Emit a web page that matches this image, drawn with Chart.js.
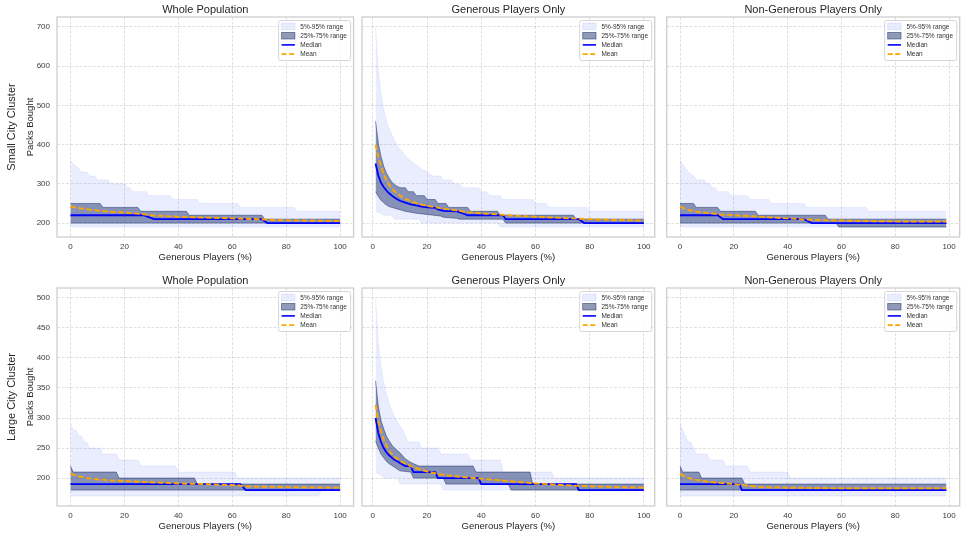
<!DOCTYPE html>
<html>
<head>
<meta charset="utf-8">
<script src="https://cdn.jsdelivr.net/npm/chart.js@4/dist/chart.umd.min.js"></script>
<style>
  html, body { margin: 0; padding: 0; background: #fff; }
  #fig { position: relative; width: 969px; height: 539px; overflow: hidden; }
  #fig canvas { position: absolute; left: 0; top: 0; }
</style>
</head>
<body>
<div id="fig"></div>
<script>
// ---- labels / ticks ----
const panelTitles = ['Whole Population', 'Generous Players Only', 'Non-Generous Players Only'];
const rowLabels = ['Small City Cluster', 'Large City Cluster'];
const xAxisLabel = 'Generous Players (%)';
const yAxisLabel = 'Packs Bought';
const legendLabels = ['5%-95% range', '25%-75% range', 'Median', 'Mean'];
const xTicks = [0, 20, 40, 60, 80, 100];
const yTicksSmall = [200, 300, 400, 500, 600, 700];
const yTicksLarge = [200, 250, 300, 350, 400, 450, 500];

// ---- small city cluster : whole population ----  [generous %, packs]
const smallWholeP05 = [[0,190],[100,190]];
const smallWholeP95 = [[0,360],[1,350],[2,345],[3,340],[4,330],[6,330],[7,320],[9,320],[10,310],[14,310],[15,300],[20,300],[21,290],[22,290],[23,280],[28,280],[29,270],[37,270],[38,260],[47,260],[48,250],[62,250],[63,240],[83,240],[84,230],[100,230]];
const smallWholeP25 = [[0,200],[100,200]];
const smallWholeP75 = [[0,250],[11,250],[12,240],[25,240],[26,230],[43,230],[44,220],[71,220],[72,210],[100,210]];
const smallWholeMedian = [[0,220],[27,220],[29,215],[31,210],[71,210],[73,200],[100,200]];
const smallWholeMean = [[0,242],[5,236],[10,232],[15,229],[20,227],[25,224],[30,220],[40,216],[50,214],[60,212],[70,210],[75,208],[80,207],[90,206],[100,205]];

// ---- small city cluster : generous players only ----
const smallGenP05 = [[1,230],[3,225],[4,220],[7,220],[8,210],[17,210],[18,200],[46,200],[47,190],[100,190]];
const smallGenP95 = [[1,700],[2,590],[3,530],[4,490],[5,460],[6,440],[7,425],[8,410],[9,398],[10,388],[12,372],[14,358],[16,348],[18,338],[20,330],[22,320],[25,320],[26,310],[29,310],[30,300],[32,300],[33,290],[39,290],[40,280],[42,280],[43,270],[47,270],[48,260],[59,260],[60,250],[64,250],[65,240],[79,240],[80,230],[100,230]];
const smallGenP25 = [[1,280],[2,268],[3,258],[4,252],[5,246],[6,242],[8,238],[10,234],[12,230],[16,225],[20,222],[25,218],[26,215],[31,212],[32,210],[48,210],[49,200],[100,200]];
const smallGenP75 = [[1,460],[2,405],[3,370],[4,345],[5,328],[6,315],[7,305],[8,298],[10,290],[12,290],[13,280],[15,280],[16,270],[19,270],[20,260],[23,260],[24,250],[27,250],[28,240],[35,240],[36,230],[46,230],[47,220],[74,220],[75,210],[100,210]];
const smallGenMedian = [[1,352],[2,322],[3,303],[4,292],[5,283],[6,276],[7,270],[8,265],[9,261],[10,257],[12,252],[14,248],[16,245],[18,242],[20,240],[23,239],[24,235],[26,231],[31,230],[33,225],[35,220],[48,220],[49,210],[76,210],[78,200],[100,200]];
const smallGenMean = [[1,400],[2,370],[3,345],[4,325],[5,310],[6,298],[7,288],[8,281],[9,275],[10,270],[12,262],[14,256],[16,251],[18,247],[20,244],[25,238],[30,233],[35,228],[40,225],[50,220],[60,216],[70,213],[80,210],[90,208],[100,206]];

// ---- small city cluster : non-generous players only ----
const smallNonP05 = [[0,190],[99,190]];
const smallNonP95 = [[0,360],[1,350],[2,340],[3,330],[4,325],[5,320],[6,310],[9,310],[10,300],[11,300],[12,290],[13,290],[14,280],[18,280],[19,270],[25,270],[26,260],[33,260],[34,250],[46,250],[47,240],[69,240],[70,230],[99,230]];
const smallNonP25 = [[0,200],[58,200],[59,190],[99,190]];
const smallNonP75 = [[0,250],[5,250],[6,240],[14,240],[15,230],[28,230],[29,220],[54,220],[55,210],[99,210]];
const smallNonMedian = [[0,220],[14,220],[16,210],[46,210],[49,200],[99,200]];
const smallNonMean = [[0,242],[2,236],[4,232],[7,228],[10,226],[15,222],[20,220],[28,217],[35,214],[40,212],[47,209],[55,207],[70,205],[85,204],[99,204]];

// ---- large city cluster : whole population ----
const largeWholeP05 = [[0,170],[92,170],[93,180],[100,180]];
const largeWholeP95 = [[0,290],[1,280],[2,280],[3,270],[4,270],[5,260],[6,260],[7,250],[11,250],[12,240],[17,240],[18,230],[25,230],[26,220],[39,220],[40,210],[61,210],[62,200],[100,200]];
const largeWholeP25 = [[0,180],[100,180]];
const largeWholeP75 = [[0,220],[1,210],[17,210],[18,200],[46,200],[47,190],[100,190]];
const largeWholeMedian = [[0,190],[63,190],[65,180],[100,180]];
const largeWholeMean = [[0,207],[3,203],[6,200],[10,198],[15,196],[20,195],[30,193],[40,191],[50,190],[62,188],[65,186],[80,185],[100,184]];

// ---- large city cluster : generous players only ----
const largeGenP05 = [[1,210],[3,205],[4,200],[9,200],[10,190],[25,190],[26,180],[100,180]];
const largeGenP95 = [[1,500],[2,425],[3,385],[4,360],[5,340],[6,325],[7,312],[8,302],[9,294],[10,287],[11,280],[12,270],[13,260],[17,260],[18,250],[24,250],[25,240],[35,240],[36,230],[47,230],[48,210],[66,210],[67,200],[100,200]];
const largeGenP25 = [[1,262],[2,250],[3,240],[4,234],[5,228],[6,224],[8,218],[10,212],[14,210],[15,200],[26,200],[27,190],[50,190],[51,180],[100,180]];
const largeGenP75 = [[1,362],[2,320],[3,296],[4,282],[5,270],[6,262],[7,255],[8,250],[10,242],[12,232],[14,226],[17,220],[37,220],[38,210],[58,210],[59,190],[100,190]];
const largeGenMedian = [[1,300],[2,275],[3,260],[4,250],[5,243],[6,238],[7,234],[8,230],[9,228],[10,225],[12,220],[14,220],[15,210],[23,210],[24,200],[39,200],[40,190],[75,190],[76,180],[100,180]];
const largeGenMean = [[1,322],[2,295],[3,278],[4,264],[5,254],[6,246],[7,240],[8,236],[10,229],[12,224],[15,218],[20,211],[25,206],[30,203],[40,199],[50,195],[60,191],[76,187],[90,185],[100,184]];

// ---- large city cluster : non-generous players only ----
const largeNonP05 = [[0,170],[99,170]];
const largeNonP95 = [[0,290],[1,280],[2,270],[3,260],[4,260],[5,250],[6,240],[10,240],[11,230],[16,230],[17,220],[25,220],[26,210],[40,210],[41,200],[99,200]];
const largeNonP25 = [[0,180],[99,180]];
const largeNonP75 = [[0,220],[1,210],[7,210],[8,200],[23,200],[24,190],[99,190]];
const largeNonMedian = [[0,190],[22,190],[23,180],[99,180]];
const largeNonMean = [[0,207],[2,202],[4,199],[6,197],[10,194],[15,192],[20,190],[24,188],[30,185],[40,184],[60,183],[99,183]];

const panels = [
  {row: 0, col: 0, p05: smallWholeP05, p95: smallWholeP95, p25: smallWholeP25, p75: smallWholeP75, med: smallWholeMedian, mean: smallWholeMean},
  {row: 0, col: 1, p05: smallGenP05, p95: smallGenP95, p25: smallGenP25, p75: smallGenP75, med: smallGenMedian, mean: smallGenMean},
  {row: 0, col: 2, p05: smallNonP05, p95: smallNonP95, p25: smallNonP25, p75: smallNonP75, med: smallNonMedian, mean: smallNonMean},
  {row: 1, col: 0, p05: largeWholeP05, p95: largeWholeP95, p25: largeWholeP25, p75: largeWholeP75, med: largeWholeMedian, mean: largeWholeMean},
  {row: 1, col: 1, p05: largeGenP05, p95: largeGenP95, p25: largeGenP25, p75: largeGenP75, med: largeGenMedian, mean: largeGenMean},
  {row: 1, col: 2, p05: largeNonP05, p95: largeNonP95, p25: largeNonP25, p75: largeNonP75, med: largeNonMedian, mean: largeNonMean},
];

// ---- layout (pixel frames of each axes) ----
const W = 969, H = 539;
const frameCols = [[57, 353.6], [362, 654.7], [666.7, 959.7]];
const frameRows = [[17, 237], [288, 506]];
const xRanges = [[-5, 105], [-4, 104], [-4.95, 103.95]];
const yRanges = [[164.5, 725.5], [153.5, 516.5]];
const yTickSets = [yTicksSmall, yTicksLarge];

const FONT = "'Liberation Sans', Arial, Helvetica, sans-serif";
const TEXT = '#262626';
const lightFill = 'rgba(70,110,240,0.12)';
const lightEdge = 'rgba(70,110,240,0.16)';
const darkFill = 'rgba(25,45,105,0.48)';
const darkEdge = 'rgba(25,45,105,0.62)';
const gridColor = 'rgba(0,0,0,0.15)';

const pts = arr => arr.map(([x, y]) => ({x, y}));

const framePlugin = {
  id: 'frame',
  afterDraw(chart) {
    const a = chart.chartArea, ctx = chart.ctx;
    ctx.save();
    ctx.strokeStyle = '#cccccc';
    ctx.lineWidth = 1.25;
    ctx.strokeRect(a.left, a.top, a.right - a.left, a.bottom - a.top);
    ctx.restore();
  }
};

const legendPlugin = {
  id: 'boxLegend',
  afterDatasetsDraw(chart) {
    const a = chart.chartArea, ctx = chart.ctx;
    const w = 72, h = 40;
    const x0 = a.right - 3 - w, y0 = a.top + 3.5;
    ctx.save();
    ctx.beginPath();
    if (ctx.roundRect) ctx.roundRect(x0, y0, w, h, 2); else ctx.rect(x0, y0, w, h);
    ctx.fillStyle = 'rgba(255,255,255,0.85)';
    ctx.fill();
    ctx.strokeStyle = '#cccccc';
    ctx.lineWidth = 0.8;
    ctx.stroke();
    ctx.font = '6.5px ' + FONT;
    ctx.textBaseline = 'middle';
    legendLabels.forEach((lab, i) => {
      const cy = y0 + 6 + i * 9.2;
      const px = x0 + 3, pw = 13.3;
      if (i === 0 || i === 1) {
        ctx.fillStyle = i === 0 ? lightFill : darkFill;
        ctx.fillRect(px, cy - 3.3, pw, 6.6);
        ctx.strokeStyle = i === 0 ? lightEdge : darkEdge;
        ctx.lineWidth = 0.8;
        ctx.strokeRect(px, cy - 3.3, pw, 6.6);
      } else {
        ctx.beginPath();
        ctx.strokeStyle = i === 2 ? '#0000ff' : '#ffa500';
        ctx.lineWidth = 1.6;
        ctx.setLineDash(i === 3 ? [5, 2.5] : []);
        ctx.moveTo(px, cy);
        ctx.lineTo(px + pw, cy);
        ctx.stroke();
        ctx.setLineDash([]);
      }
      ctx.fillStyle = '#333333';
      ctx.fillText(lab, x0 + 21.7, cy + 0.3);
    });
    ctx.restore();
  }
};

const rowLabelPlugin = {
  id: 'rowLabel',
  afterDraw(chart, args, opts) {
    if (!opts.text) return;
    const a = chart.chartArea, ctx = chart.ctx;
    ctx.save();
    ctx.translate(11.5, (a.top + a.bottom) / 2);
    ctx.rotate(-Math.PI / 2);
    ctx.font = '11px ' + FONT;
    ctx.fillStyle = TEXT;
    ctx.textAlign = 'center';
    ctx.textBaseline = 'middle';
    ctx.fillText(opts.text, 0, 0);
    ctx.restore();
  }
};

const fig = document.getElementById('fig');

panels.forEach(p => {
  const canvas = document.createElement('canvas');
  canvas.width = W;
  canvas.height = H;
  fig.appendChild(canvas);

  const [fl, fr] = frameCols[p.col];
  const [ft, fb] = frameRows[p.row];
  const firstCol = p.col === 0;
  const yW = firstCol ? fl : 4;
  const xH = 26;
  const titleH = 13.2;
  const yTicks = yTickSets[p.row];

  new Chart(canvas, {
    type: 'line',
    data: {
      datasets: [
        {label: 'Mean', data: pts(p.mean), borderColor: '#ffa500', borderWidth: 1.9, borderDash: [5.5, 2.5], fill: false},
        {label: 'Median', data: pts(p.med), borderColor: '#0000ff', borderWidth: 1.8, fill: false},
        {label: '25%-75% range', data: pts(p.p75), borderColor: darkEdge, borderWidth: 0.8, backgroundColor: darkFill, fill: '+1'},
        {label: '25%', data: pts(p.p25), borderColor: darkEdge, borderWidth: 0.8, fill: false},
        {label: '5%-95% range', data: pts(p.p95), borderColor: lightEdge, borderWidth: 0.6, backgroundColor: lightFill, fill: '+1'},
        {label: '5%', data: pts(p.p05), borderColor: lightEdge, borderWidth: 0.6, fill: false}
      ]
    },
    options: {
      responsive: false,
      animation: false,
      devicePixelRatio: 1,
      layout: {padding: {left: fl - yW, top: ft - titleH, right: W - fr, bottom: H - fb - xH}},
      elements: {point: {radius: 0}, line: {tension: 0}},
      plugins: {
        legend: {display: false},
        tooltip: {enabled: false},
        title: {
          display: true, text: panelTitles[p.col], fullSize: false,
          font: {family: FONT, size: 11, weight: 'normal'}, color: TEXT, padding: 0
        },
        rowLabel: {text: firstCol ? rowLabels[p.row] : ''}
      },
      scales: {
        x: {
          type: 'linear',
          min: xRanges[p.col][0], max: xRanges[p.col][1],
          afterFit: s => { s.height = xH; },
          afterBuildTicks: s => { s.ticks = xTicks.map(v => ({value: v})); },
          grid: {color: gridColor, lineWidth: 0.8, drawTicks: false},
          border: {display: false, dash: [3, 1.5]},
          ticks: {font: {family: FONT, size: 8}, color: '#3a3a3a', padding: 5, maxRotation: 0},
          title: {display: true, text: xAxisLabel, font: {family: FONT, size: 9.5}, color: TEXT, padding: 0}
        },
        y: {
          type: 'linear',
          min: yRanges[p.row][0], max: yRanges[p.row][1],
          afterFit: s => { s.width = yW; },
          afterBuildTicks: s => { s.ticks = yTicks.map(v => ({value: v})); },
          grid: {color: gridColor, lineWidth: 0.8, drawTicks: false},
          border: {display: false, dash: [3, 1.5]},
          ticks: {display: firstCol, font: {family: FONT, size: 8}, color: '#3a3a3a', padding: 7},
          title: {display: firstCol, text: yAxisLabel, font: {family: FONT, size: 9.5}, color: TEXT, padding: {top: 24.8, bottom: 0}}
        }
      }
    },
    plugins: [framePlugin, legendPlugin, rowLabelPlugin]
  });
});
</script>
</body>
</html>
